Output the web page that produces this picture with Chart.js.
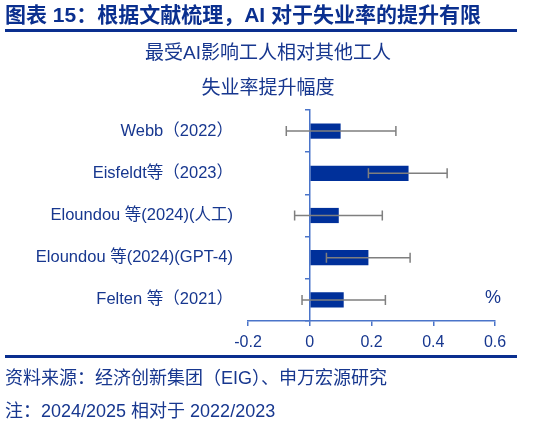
<!DOCTYPE html>
<html>
<head>
<meta charset="utf-8">
<script src="https://cdn.jsdelivr.net/npm/chart.js@4"></script>
<style>
  body { margin: 0; background: #fff; }
  #page { position: relative; width: 549px; height: 425px; overflow: hidden;
          font-family: "Liberation Sans", Arial, "Noto Sans CJK SC", sans-serif; color: #17378f; }
  #page canvas { position: absolute; left: 0; top: 0; }
  .txt { position: absolute; white-space: nowrap; }
  .rule { position: absolute; left: 5px; width: 512px; height: 3px; background: #0a2f8f; }
</style>
</head>
<body>
<div id="page">
  <canvas id="chart" width="549" height="425"></canvas>
  <div class="txt" style="left:5px; top:3px; line-height:24px; font-size:21px; font-weight:bold; color:#0a2f8f;">图表 15：根据文献梳理，AI 对于失业率的提升有限</div>
  <div class="rule" style="top:29px;"></div>
  <div class="txt" style="left:0; width:536px; text-align:center; top:41px; line-height:24px; font-size:19px;">最受AI影响工人相对其他工人</div>
  <div class="txt" style="left:0; width:536px; text-align:center; top:76px; line-height:24px; font-size:19px;">失业率提升幅度</div>
  <div class="txt" style="left:485px; top:286px; line-height:22px; font-size:18px;">%</div>
  <div class="rule" style="top:355px;"></div>
  <div class="txt" style="left:5px; top:367px; line-height:22px; font-size:18px;">资料来源：经济创新集团（EIG）、申万宏源研究</div>
  <div class="txt" style="left:5px; top:400px; line-height:22px; font-size:18px;">注：2024/2025 相对于 2022/2023</div>
</div>
<script>
// values (percentage points)
const categories = ['Webb（2022）', 'Eisfeldt等（2023）', 'Eloundou 等(2024)(人工)', 'Eloundou 等(2024)(GPT-4)', 'Felten 等（2021）'];
const values = [0.10, 0.32, 0.094, 0.19, 0.11];
const errLow = [-0.076, 0.19, -0.049, 0.054, -0.025];
const errHigh = [0.279, 0.445, 0.235, 0.325, 0.245];
const xTicks = [-0.2, 0, 0.2, 0.4, 0.6];

const fontStack = '"Liberation Sans", Arial, "Noto Sans CJK SC", sans-serif';
const axisBlue = '#4a74c9';
const textBlue = '#17378f';

// draw the error bars through the chart's own scales
const errorBars = {
    id: 'errorBars',
    afterDatasetsDraw(chart) {
        const ctx = chart.ctx;
        const xs = chart.scales.x;
        const ys = chart.scales.y;
        ctx.save();
        ctx.strokeStyle = '#7f7f7f';
        ctx.lineWidth = 1.5;
        for (let i = 0; i < categories.length; i++) {
            const y = ys.getPixelForValue(i);
            const x1 = xs.getPixelForValue(errLow[i]);
            const x2 = xs.getPixelForValue(errHigh[i]);
            ctx.beginPath();
            ctx.moveTo(x1, y); ctx.lineTo(x2, y);
            ctx.moveTo(x1, y - 5); ctx.lineTo(x1, y + 5);
            ctx.moveTo(x2, y - 5); ctx.lineTo(x2, y + 5);
            ctx.stroke();
        }
        ctx.restore();
    }
};

const chart = new Chart(document.getElementById('chart'), {
    type: 'bar',
    data: {
        labels: categories,
        datasets: [{
            data: values,
            backgroundColor: '#00309a',
            barPercentage: 0.36,
            categoryPercentage: 1
        }]
    },
    options: {
        indexAxis: 'y',
        responsive: false,
        animation: false,
        layout: { padding: { top: 110, right: 54, bottom: 74, left: 0 } },
        plugins: { legend: { display: false }, tooltip: { enabled: false } },
        scales: {
            x: {
                min: -0.2,
                max: 0.6,
                afterBuildTicks: (scale) => { scale.ticks = xTicks.map(v => ({ value: v })); },
                afterFit: (scale) => { scale.height = 30; },
                border: { color: axisBlue, width: 1.5 },
                grid: { drawOnChartArea: false, tickLength: 5, color: axisBlue, lineWidth: 1.5 },
                ticks: { color: textBlue, font: { family: fontStack, size: 16 }, padding: 7, maxRotation: 0 }
            },
            y: {
                afterFit: (scale) => { scale.width = 248; },
                border: { display: false },
                grid: { display: false, drawTicks: false },
                ticks: { color: textBlue, font: { family: fontStack, size: 16.5 }, padding: 15 }
            },
            y2: {
                type: 'category',
                labels: categories,
                position: { x: 0 },
                offset: true,
                border: { color: axisBlue, width: 1.5 },
                grid: { drawOnChartArea: false, offset: true, tickLength: 4, color: axisBlue, lineWidth: 1.5 },
                ticks: { display: false }
            }
        }
    },
    plugins: [errorBars]
});
</script>
</body>
</html>
